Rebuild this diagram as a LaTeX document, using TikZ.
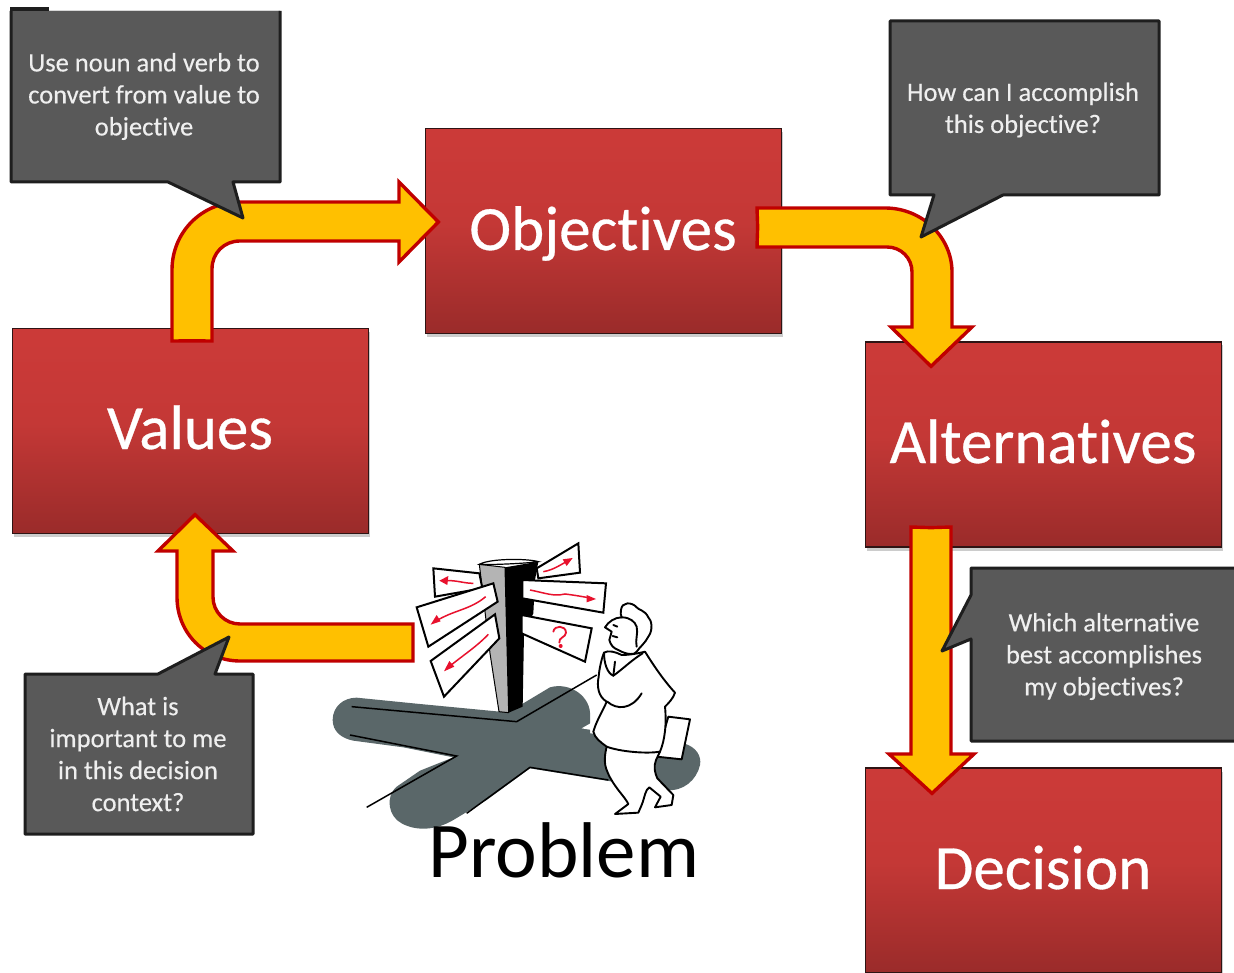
\documentclass[tikz,border=0pt]{standalone}
\usepackage{fontspec}
\setmainfont[Ligatures=NoCommon]{Carlito}
\newfontfamily\bigface[Ligatures=NoCommon,FakeBold=0.5]{Carlito}
\newfontfamily\smallface[Ligatures=NoCommon,FakeBold=0.35]{Carlito}
\usetikzlibrary{shadows,calc}
\definecolor{boxtop}{HTML}{CB3A38}
\definecolor{boxmid}{HTML}{C43836}
\definecolor{boxbot}{HTML}{9A2B2A}
\definecolor{boxline}{HTML}{2E1414}
\definecolor{arrowfill}{HTML}{FFC000}
\definecolor{arrowedge}{HTML}{C00000}
\definecolor{callfill}{HTML}{595959}
\definecolor{callline}{HTML}{1E1E1E}
\definecolor{calltext}{HTML}{EFEFEF}
\definecolor{roadfill}{HTML}{5A6769}
\definecolor{postgrey}{HTML}{B4B4B4}
\definecolor{signred}{HTML}{E8112D}
\pgfdeclareverticalshading{boxshade}{100bp}{color(0bp)=(boxbot);color(25bp)=(boxbot);color(52bp)=(boxmid);color(72bp)=(boxtop);color(100bp)=(boxtop)}
\tikzset{
  stagebox/.style={draw=boxline,line width=1.3pt,shading=boxshade,minimum width=356pt,minimum height=205pt,
    inner sep=0pt,anchor=center,
    general shadow={shadow xshift=1pt,shadow yshift=-3.5pt,fill=black,fill opacity=.2}},
  stagetxt/.style={text=white,font=\bigface\fontsize{63}{70}\selectfont,inner sep=0pt,anchor=base},
  blockarrow/.style={draw=arrowedge,fill=arrowfill,line width=3.4pt,line join=miter,miter limit=10},
  callout/.style={fill=callfill,draw=callline,line width=3pt,line join=round},
  calltxt/.style={text=calltext,align=center,font=\smallface\fontsize{26.5}{32}\selectfont,inner sep=0pt},
  roadline/.style={draw=black,line width=1.5pt,line join=miter},
  sign/.style={draw=black,fill=white,line width=2pt,line join=miter},
  redline/.style={draw=signred,line width=1.5pt},
  redhead/.style={fill=signred},
  inkshape/.style={draw=black,fill=white,line width=1.9pt,line join=round},
  inkline/.style={draw=black,line width=1.9pt,line cap=round},
}
\begin{document}
\begin{tikzpicture}[x=1pt,y=-1pt]
\useasboundingbox (0,0) rectangle (1234,973);
\clip (0,0) rectangle (1234,973);
\fill[white] (0,0) rectangle (1234,973);

% stage boxes
\node[stagebox] (values) at (190.5,431) {};
\node[stagebox] (objectives) at (603.5,231) {};
\node[stagebox] (alternatives) at (1043.5,444.5) {};
\node[stagebox] (decision) at (1043.5,870.5) {};
\node[stagetxt] (tvalues) at (190,449) {Values};
\node[stagetxt] (tobjectives) at (603,250) {Objectives};
\node[stagetxt] (talternatives) at (1043,463) {Alternatives};
\node[stagetxt] (tdecision) at (1043,889) {Decision};

% connector ends, tied to the boxes
\coordinate (a1from) at ($(values.north)+(1.5,13)$);
\coordinate (a1to)   at ($(objectives.west)+(13.5,-9)$);
\coordinate (a2from) at ($(objectives.east)+(-24.5,-4)$);
\coordinate (a2to)   at ($(alternatives.north)+(-112.5,25)$);
\coordinate (a3from) at ($(alternatives.south)+(-112.5,-20)$);
\coordinate (a3to)   at ($(decision.north)+(-111.5,26)$);
\coordinate (a4from) at (413,642);
\coordinate (a4to)   at ($(values.south)+(4.5,-19.5)$);

% Values -> Objectives
\draw[blockarrow] (a1from) -- (172,341) -- (172,270) .. controls (172,232) and (202,202) .. (240,202)
  -- (399,202) -- (399,182) -- (a1to) -- (399,262) -- (399,241) -- (240,241)
  .. controls (224,241) and (212,253) .. (212,269) -- (212,341) -- cycle;
% Objectives -> Alternatives
\draw[blockarrow] (a2from) -- (757,208) -- (885,208) .. controls (923,208) and (952,238) .. (952,272)
  -- (952,327) -- (972,327) -- (a2to) -- (891,327) -- (912,327) -- (912,272)
  .. controls (912,258) and (901,247) .. (887,247) -- (757,247) -- cycle;
% Alternatives -> Decision
\draw[blockarrow] (a3from) -- (951,527) -- (951,754) -- (974,754) -- (a3to) -- (889,754) -- (911,754) -- (911,527) -- cycle;
% Problem -> Values
\draw[blockarrow] (a4from) -- (413,624) -- (240,624) .. controls (225,624) and (213,612) .. (213,597)
  -- (213,551) -- (233,551) -- (a4to) -- (158,551) -- (177,551) -- (177,597)
  .. controls (177,633) and (205,661) .. (240,661) -- (413,661) -- cycle;

% callouts
\path[callout,draw=none] (11,11) -- (280,11) -- (280,182) -- (233,182) -- (243,218) -- (168,182) -- (11,182) -- cycle;
\draw[callout] (280,11) -- (280,182) -- (233,182) -- (243,218) -- (168,182) -- (11,182) -- (11,11);
\fill[callline] (9.5,7) rectangle (49,11);
\node[calltxt] (c1) at (144,96.5) {Use noun and verb to\\convert from value to\\objective};

\draw[callout] (890,21) -- (1159,21) -- (1159,195) -- (1003,195) -- (921,237) -- (934,195) -- (890,195) -- cycle;
\node[calltxt] (c2) at (1023,110) {How can I accomplish\\this objective?};

\draw[callout] (971,568) -- (1240,568) -- (1240,741) -- (971,741) -- (971,639) -- (942,651) -- (971,595) -- cycle;
\node[calltxt] (c3) at (1104,656.5) {Which alternative\\best accomplishes\\my objectives?};

\draw[callout] (25,674) -- (158,674) -- (229,637) -- (215,674) -- (253,674) -- (253,834) -- (25,834) -- cycle;
\node[calltxt] (c4) at (138,754) {What is\\important to me\\in this decision\\context?};

% clip-art: signpost, roads and thinking man
\begin{scope}[shift={(320,530)},x=.33333pt,y=-.33333pt]
  % road shadow
  \fill[roadfill] (38,570) .. controls (38,530) and (70,503) .. (110,503) -- (300,522) -- (540,545) -- (610,520) -- (690,472)
    .. controls (750,455) and (815,500) .. (810,560) -- (810,610) -- (1000,630) -- (1090,640)
    .. controls (1130,650) and (1145,680) .. (1140,705) .. controls (1130,750) and (1090,785) .. (1040,780)
    -- (860,752) -- (630,715) -- (500,810) -- (400,870)
    .. controls (350,900) and (290,905) .. (245,880) .. controls (205,860) and (195,800) .. (230,770)
    -- (300,722) -- (400,682) -- (250,652) -- (100,632) .. controls (65,625) and (38,605) .. (38,570) -- cycle;
  \draw[roadline] (95,530) -- (590,575) -- (830,435);
  \draw[roadline] (90,615) -- (410,678) -- (140,832);
  \draw[roadline] (440,850) -- (630,712) -- (865,750);
  % post
  \fill[postgrey,draw=black,line width=1pt] (478,103) -- (555,112) -- (566,548) -- (537,545) -- (510,370) -- cycle;
  \fill[black] (555,112) -- (655,95) -- (645,150) -- (640,250) -- (612,310) -- (608,530) -- (566,548) -- cycle;
  \draw[fill=white,line width=1.2pt] (478,103) .. controls (510,85) and (620,85) .. (655,95) .. controls (620,100) and (520,105) .. (478,103) -- cycle;
  % signs
  \draw[sign] (340,115) -- (478,130) -- (487,175) -- (345,200) -- cycle;
  \draw[sign] (290,232) -- (520,160) -- (533,215) -- (325,350) -- cycle;
  \draw[sign] (332,393) -- (525,253) -- (538,325) -- (372,500) -- cycle;
  \draw[sign] (650,115) -- (775,40) -- (780,128) -- (655,145) -- cycle;
  \draw[sign] (607,150) -- (858,160) -- (850,248) -- (607,205) -- cycle;
  \draw[sign] (605,255) -- (815,295) -- (795,395) -- (605,310) -- cycle;
  % red marks
  \draw[redline] (460,160) .. controls (430,160) and (410,150) .. (375,152);
  \fill[redhead] (358,152) -- (385,138) -- (382,165) -- cycle;
  \draw[redline] (497,200) .. controls (450,240) and (400,240) .. (345,275);
  \fill[redhead] (332,284) -- (350,255) -- (362,274) -- cycle;
  \draw[redline] (505,313) .. controls (470,350) and (430,375) .. (385,412);
  \fill[redhead] (372,424) -- (388,393) -- (403,410) -- cycle;
  \draw[redline] (670,125) .. controls (700,120) and (720,105) .. (745,92);
  \fill[redhead] (758,84) -- (728,88) -- (740,108) -- cycle;
  \draw[redline] (630,180) .. controls (680,190) and (700,200) .. (735,192) .. controls (760,195) and (790,200) .. (815,205);
  \fill[redhead] (828,207) -- (800,195) -- (800,217) -- cycle;
  \draw[signred,line width=1.8pt,line cap=round] (700,305) .. controls (702,285) and (738,285) .. (738,308) .. controls (738,322) and (715,322) .. (718,338);
  \fill[signred] (722,348) circle (6);
  % briefcase
  \draw[inkshape] (1045,560) -- (1110,568) -- (1085,688) -- (1010,680) -- cycle;
  % man: body and legs
  \draw[inkshape] (905,375) .. controls (930,375) and (955,370) .. (975,365)
    .. controls (1000,405) and (1030,450) .. (1065,488)
    .. controls (1060,505) and (1045,520) .. (1035,530)
    .. controls (1040,580) and (1035,630) .. (1020,665)
    -- (1008,690) .. controls (1000,710) and (1005,730) .. (1012,745)
    -- (1060,795) -- (1055,825) -- (1005,832) -- (1022,800) -- (988,772)
    .. controls (975,780) and (975,800) .. (965,825)
    -- (955,848) -- (885,852) -- (925,822)
    .. controls (915,800) and (880,770) .. (862,725)
    .. controls (850,700) and (855,670) .. (860,650)
    .. controls (840,635) and (825,625) .. (820,605)
    .. controls (830,570) and (850,540) .. (860,515)
    .. controls (835,500) and (830,470) .. (836,440)
    .. controls (838,415) and (845,385) .. (852,368)
    .. controls (865,360) and (885,365) .. (905,375) -- cycle;
  % man: head and hair
  \draw[inkshape] (905,262) .. controls (885,262) and (865,275) .. (855,292)
    -- (875,305) -- (868,330) .. controls (872,345) and (880,355) .. (895,360)
    .. controls (920,375) and (945,375) .. (950,365)
    .. controls (960,350) and (975,340) .. (985,320)
    .. controls (1000,300) and (995,270) .. (985,262)
    .. controls (975,240) and (955,240) .. (950,232)
    .. controls (935,215) and (905,215) .. (903,240)
    .. controls (900,248) and (903,255) .. (905,262) -- cycle;
  % man: details
  \draw[inkline] (905,262) .. controls (930,262) and (945,275) .. (950,290) .. controls (955,310) and (945,330) .. (950,350);
  \draw[inkline] (880,285) -- (892,290) (878,318) -- (892,322);
  \draw[inkline] (968,370) .. controls (935,390) and (905,420) .. (880,437) .. controls (862,430) and (852,400) .. (852,368);
  \draw[inkline] (885,395) -- (880,437) (862,515) .. controls (890,540) and (935,540) .. (965,490);
  \draw[inkline] (860,650) .. controls (900,665) and (980,672) .. (1020,665);
  \fill[white] (785,595) -- (820,575) -- (815,600) -- cycle;
\end{scope}

\node[text=black,font=\fontsize{79}{86}\selectfont,inner sep=0pt,anchor=base] (problem) at (564,877) {Problem};
\end{tikzpicture}
\end{document}
